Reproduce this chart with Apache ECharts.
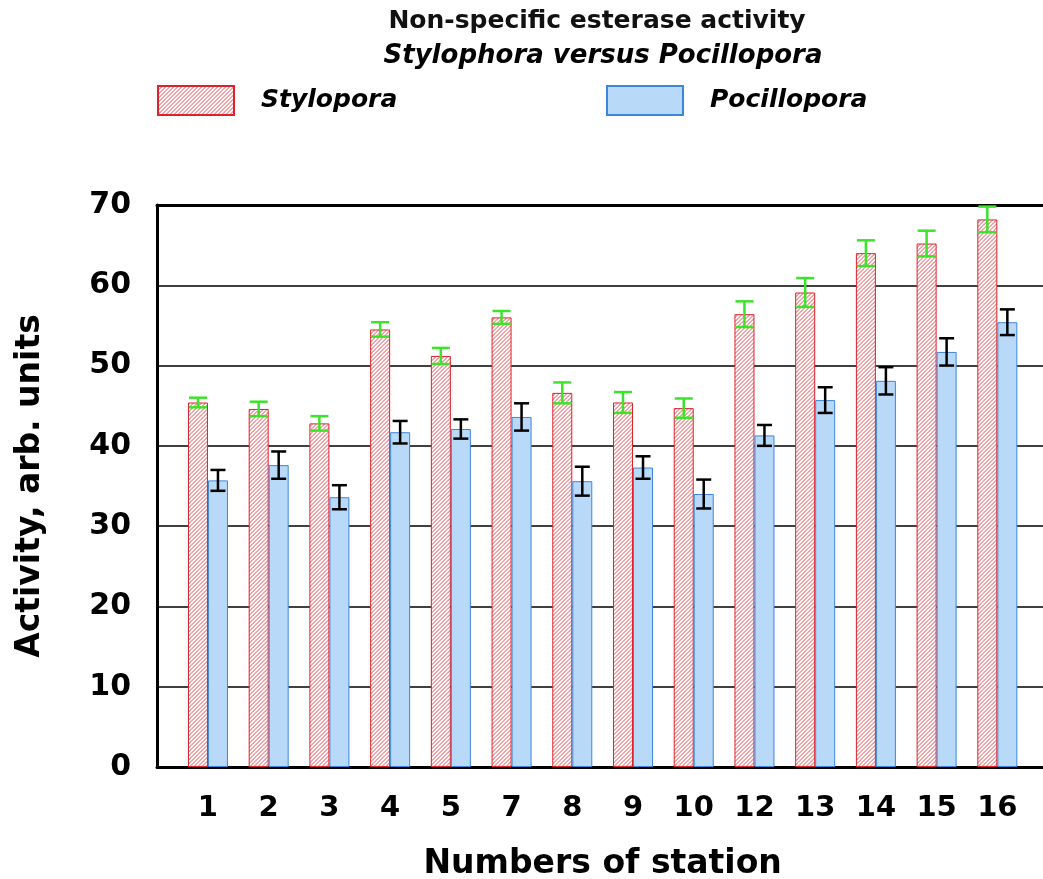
<!DOCTYPE html>
<html>
<head>
<meta charset="utf-8">
<script src="https://cdn.jsdelivr.net/npm/echarts@6/dist/echarts.min.js"></script>
<style>
  html, body { margin: 0; padding: 0; background: #fff; }
  #chart { width: 1043px; height: 879px; }
</style>
</head>
<body>
<div id="chart"></div>
<script>
// station numbers and readings
var stations = ['1', '2', '3', '4', '5', '7', '8', '9', '10', '12', '13', '14', '15', '16']
var stylopora = [45.4, 44.6, 42.8, 54.5, 51.2, 56.0, 46.6, 45.4, 44.7, 56.4, 59.1, 64.0, 65.2, 68.2]
var styloporaErr = [0.6, 0.9, 0.9, 0.9, 1.0, 0.8, 1.3, 1.3, 1.2, 1.6, 1.8, 1.6, 1.6, 1.6]
var pocillopora = [35.7, 37.6, 33.6, 41.7, 42.1, 43.6, 35.6, 37.3, 34.0, 41.3, 45.7, 48.1, 51.7, 55.4]
var pocilloporaErr = [1.3, 1.7, 1.5, 1.4, 1.2, 1.7, 1.8, 1.4, 1.8, 1.3, 1.6, 1.7, 1.7, 1.6]
var yTicks = [0, 10, 20, 30, 40, 50, 60, 70]

var FONT = '"DejaVu Sans", Verdana, sans-serif'
var BAR_W = 20

// diagonal red hatch like the original (filled stripes, 4px period)
function hatch() {
  var s = 8
  var c = document.createElement('canvas')
  c.width = s
  c.height = s
  var ctx = c.getContext('2d')
  ctx.fillStyle = '#ffffff'
  ctx.fillRect(0, 0, s, s)
  ctx.fillStyle = 'rgb(236, 80, 86)'
  for (var k = -2; k <= 4; k++) {
    var o = k * 4
    ctx.beginPath()
    ctx.moveTo(o, s)
    ctx.lineTo(o + 1.1, s)
    ctx.lineTo(o + 1.1 + s, 0)
    ctx.lineTo(o + s, 0)
    ctx.closePath()
    ctx.fill()
  }
  return c
}

function errorBars(values, errs, shift, color, cap) {
  return {
    type: 'custom',
    xAxisIndex: 1,
    yAxisIndex: 1,
    z: 5,
    data: values.map(function(v, i) { return [i, v - errs[i], v + errs[i]] }),
    renderItem: function(params, api) {
      var lo = api.coord([api.value(0), api.value(1)])
      var hi = api.coord([api.value(0), api.value(2)])
      var x = lo[0] + shift
      var style = { stroke: color, lineWidth: 2.5 }
      return {
        type: 'group',
        children: [
          { type: 'line', shape: { x1: x, y1: lo[1], x2: x, y2: hi[1] }, style: style },
          { type: 'line', shape: { x1: x - cap / 2, y1: lo[1], x2: x + cap / 2, y2: lo[1] }, style: style },
          { type: 'line', shape: { x1: x - cap / 2, y1: hi[1], x2: x + cap / 2, y2: hi[1] }, style: style }
        ]
      }
    }
  }
}

var chart = echarts.init(document.getElementById('chart'))

var legendText = {
  fontFamily: FONT,
  fontSize: 25,
  fontWeight: 'bold',
  fontStyle: 'italic',
  color: '#000',
  padding: [0, 0, 0, 22]
}

var option = {
  backgroundColor: '#fff',
  animation: false,
  title: [
    {
      text: 'Non-specific esterase activity',
      left: 597,
      top: 9,
      padding: 0,
      textAlign: 'center',
      textStyle: { fontFamily: FONT, fontSize: 25, fontWeight: 'bold', color: '#111' }
    },
    {
      text: 'Stylophora versus Pocillopora',
      left: 603,
      top: 43,
      padding: 0,
      textAlign: 'center',
      textStyle: { fontFamily: FONT, fontSize: 26, fontWeight: 'bold', fontStyle: 'italic', color: '#000' }
    }
  ],
  legend: [
    {
      data: ['Stylopora'],
      left: 157,
      top: 85,
      padding: 0,
      itemWidth: 76,
      itemHeight: 29,
      icon: 'rect',
      textStyle: legendText
    },
    {
      data: ['Pocillopora'],
      left: 606,
      top: 85,
      padding: 0,
      itemWidth: 76,
      itemHeight: 29,
      icon: 'rect',
      textStyle: legendText
    }
  ],
  grid: [
    { left: 157, right: -10, top: 205, bottom: 112, containLabel: false, outerBoundsMode: 'none' },
    { left: 177.6, right: 15.3, top: 205, bottom: 112, containLabel: false, outerBoundsMode: 'none' }
  ],
  xAxis: [
    {
      gridIndex: 0,
      type: 'value',
      min: 0,
      max: 1,
      axisLine: { show: true, lineStyle: { color: '#000', width: 3 } },
      axisTick: { show: false },
      axisLabel: { show: false },
      splitLine: { show: false }
    },
    {
      gridIndex: 1,
      type: 'category',
      data: stations,
      axisLine: { show: false },
      axisTick: { show: false },
      axisLabel: { margin: 27, fontFamily: FONT, fontSize: 29, fontWeight: 'bold', color: '#000' },
      name: 'Numbers of station',
      nameLocation: 'middle',
      nameGap: 81,
      nameTextStyle: { fontFamily: FONT, fontSize: 33, fontWeight: 'bold', color: '#000' }
    },
    {
      gridIndex: 0,
      type: 'value',
      position: 'top',
      min: 0,
      max: 1,
      axisLine: { show: true, lineStyle: { color: '#000', width: 3 } },
      axisTick: { show: false },
      axisLabel: { show: false },
      splitLine: { show: false }
    }
  ],
  yAxis: [
    {
      gridIndex: 0,
      type: 'value',
      min: yTicks[0],
      max: yTicks[yTicks.length - 1],
      interval: 10,
      axisLine: { show: true, lineStyle: { color: '#000', width: 3 } },
      axisTick: { show: false },
      axisLabel: { margin: 26, fontFamily: FONT, fontSize: 30, fontWeight: 'bold', color: '#000' },
      splitLine: { show: true, lineStyle: { color: '#000', width: 1.5 } },
      name: 'Activity, arb. units',
      nameLocation: 'middle',
      nameGap: 110,
      nameTextStyle: { fontFamily: FONT, fontSize: 33, fontWeight: 'bold', color: '#000' }
    },
    {
      gridIndex: 1,
      type: 'value',
      min: 0,
      max: 70,
      show: false
    }
  ],
  series: [
    {
      name: 'Stylopora',
      type: 'bar',
      xAxisIndex: 1,
      yAxisIndex: 1,
      barWidth: BAR_W,
      barGap: '0%',
      data: stylopora,
      itemStyle: {
        color: { image: hatch(), repeat: 'repeat' },
        borderColor: '#e0202a',
        borderWidth: 1
      }
    },
    {
      name: 'Pocillopora',
      type: 'bar',
      xAxisIndex: 1,
      yAxisIndex: 1,
      barWidth: BAR_W,
      data: pocillopora,
      itemStyle: {
        color: '#b9d9f9',
        borderColor: '#3d86dc',
        borderWidth: 1
      }
    },
    errorBars(stylopora, styloporaErr, -BAR_W / 2, '#3be32b', 18),
    errorBars(pocillopora, pocilloporaErr, BAR_W / 2, '#000', 15)
  ]
}

chart.setOption(option)
</script>
</body>
</html>
